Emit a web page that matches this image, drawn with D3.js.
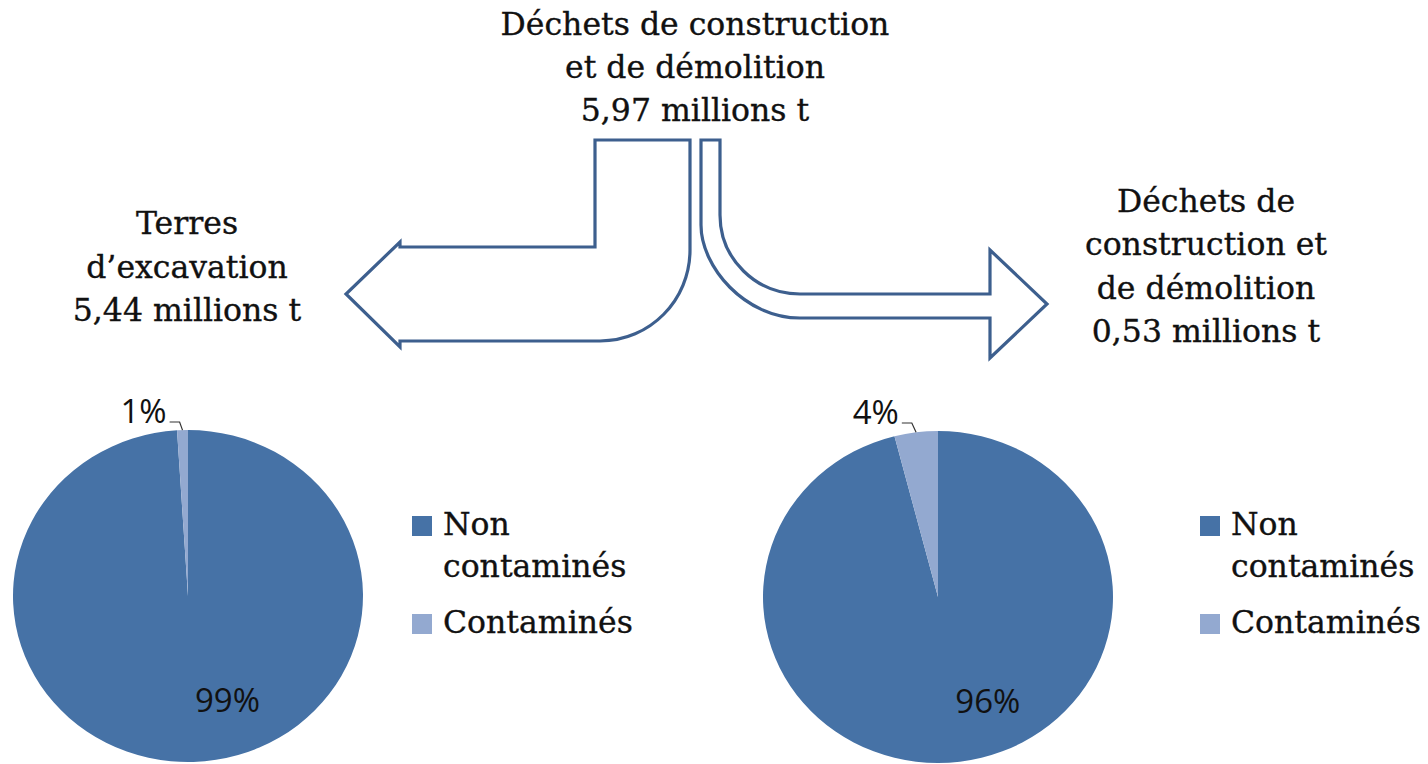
<!DOCTYPE html>
<html>
<head>
<meta charset="utf-8">
<script src="https://cdn.jsdelivr.net/npm/d3@7"></script>
<style>
  body { margin: 0; background: #fff; }
  svg { display: block; }
  .ttl { font-family: "DejaVu Serif", serif; font-size: 31.5px; fill: #111; stroke: #111; stroke-width: 0.35px; }
  .pct { font-family: "Open Sans", "Liberation Sans", sans-serif; font-size: 33px; fill: #111; }
</style>
</head>
<body>
<svg id="chart"></svg>
<script>
// données
var categories = ["Non contaminés", "Contaminés"];
var terresValues = [99, 1];      // Terres d'excavation (%)
var dcdValues = [96, 4];         // Déchets de construction et de démolition (%)
var titleTop = ["Déchets de construction", "et de démolition", "5,97 millions t"];
var titleLeft = ["Terres", "d\u2019excavation", "5,44 millions t"];
var titleRight = ["Déchets de", "construction et", "de démolition", "0,53 millions t"];

var W = 1428, H = 764;
var colors = ["#4672a6", "#93a9d0"];
var strokeCol = "#3d5f8e";

var svg = d3.select("#chart").attr("width", W).attr("height", H);
svg.append("rect").attr("width", W).attr("height", H).attr("fill", "#fff");

// titres (texte multi-lignes centré)
function multiLine(lines, cx, y0, lh){
    var t = svg.append("text").attr("class", "ttl").attr("text-anchor", "middle");
    lines.forEach(function(s, i){
        t.append("tspan").attr("x", cx).attr("y", y0 + i*lh).text(s);
    });
}
multiLine(titleTop, 695, 35, 43);
multiLine(titleLeft, 187, 234, 43.5);
multiLine(titleRight, 1206, 212, 43.3);

// flèches
var leftArrow = d3.path();
leftArrow.moveTo(595, 140);
leftArrow.lineTo(690, 140);
leftArrow.lineTo(690, 250);
leftArrow.bezierCurveTo(690, 300, 650, 341, 600, 341);
leftArrow.lineTo(400, 341);
leftArrow.lineTo(400, 347);
leftArrow.lineTo(346, 294);
leftArrow.lineTo(400, 242);
leftArrow.lineTo(400, 247);
leftArrow.lineTo(595, 247);
leftArrow.closePath();

var rightArrow = d3.path();
rightArrow.moveTo(701, 140);
rightArrow.lineTo(720, 140);
rightArrow.lineTo(720, 215);
rightArrow.bezierCurveTo(720, 259, 756, 294, 800, 294);
rightArrow.lineTo(990, 294);
rightArrow.lineTo(990, 250);
rightArrow.lineTo(1047, 304);
rightArrow.lineTo(990, 358);
rightArrow.lineTo(990, 318);
rightArrow.lineTo(800, 318);
rightArrow.bezierCurveTo(745, 318, 701, 267, 701, 225);
rightArrow.closePath();

svg.selectAll("path.arrow")
    .data([leftArrow.toString(), rightArrow.toString()])
    .enter().append("path")
    .attr("class", "arrow")
    .attr("d", function(d){ return d; })
    .attr("fill", "none")
    .attr("stroke", strokeCol)
    .attr("stroke-width", 3.2)
    .attr("stroke-linejoin", "miter");

// camemberts
var rx = 175, ry = 166;
var pie = d3.pie().sort(null).value(function(d){ return d; });
var arc = d3.arc().innerRadius(0).outerRadius(rx);
var labelArc = d3.arc().innerRadius(110).outerRadius(110);

function drawPie(values, cx, cy, legendX){
    var sy = ry/rx;
    var arcs = pie(values);
    var g = svg.append("g").attr("transform", "translate(" + cx + "," + cy + ")");
    g.append("g").attr("transform", "scale(1," + sy + ")")
        .selectAll("path")
        .data(arcs)
        .enter().append("path")
        .attr("d", arc)
        .attr("fill", function(d, i){ return colors[i]; });

    // étiquette intérieure (grand secteur)
    var c = labelArc.centroid(arcs[0]);
    g.append("text").attr("class", "pct")
        .attr("text-anchor", "middle")
        .attr("x", c[0] + 36)
        .attr("y", c[1]*sy + 12)
        .text(values[0] + "%");

    // étiquette extérieure avec ligne de rappel (petit secteur)
    var a = (arcs[1].startAngle + arcs[1].endAngle)/2;
    var px = Math.sin(a)*rx, py = -Math.cos(a)*ry;
    var ly = -ry - 8;
    var ex = px - Math.max(10, (py - ly)*1.1 + 4);
    var elbowX = Math.min(px, ex + 10);
    g.append("path")
        .attr("d", "M" + px + "," + py + "L" + (elbowX) + "," + ly + "L" + ex + "," + ly)
        .attr("fill", "none")
        .attr("stroke", "#333")
        .attr("stroke-width", 1.2);
    g.append("text").attr("class", "pct")
        .attr("text-anchor", "end")
        .attr("x", ex - 3)
        .attr("y", ly + 1)
        .text(values[1] + "%");

    // légende
    var lg = svg.append("g");
    var rows = [{y: 516, lines: ["Non", "contaminés"]}, {y: 614, lines: ["Contaminés"]}];
    categories.forEach(function(cat, i){
        lg.append("rect")
            .attr("x", legendX).attr("y", rows[i].y)
            .attr("width", 20).attr("height", 20)
            .attr("fill", colors[i]);
        var t = lg.append("text").attr("class", "ttl");
        rows[i].lines.forEach(function(s, j){
            t.append("tspan").attr("x", legendX + 31).attr("y", rows[i].y + 19 + j*42).text(s);
        });
    });
}

drawPie(terresValues, 188, 596, 412);
drawPie(dcdValues, 938, 597, 1200);
</script>
</body>
</html>
